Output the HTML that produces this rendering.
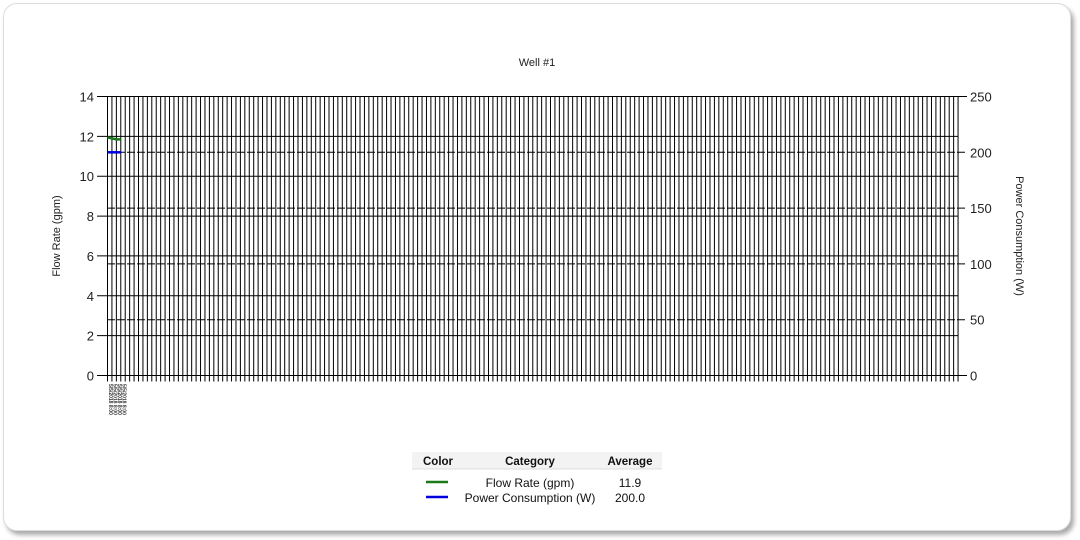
<!DOCTYPE html>
<html><head><meta charset="utf-8"><style>
body{margin:0;width:1080px;height:540px;background:#fff;overflow:hidden;font-family:"Liberation Sans",sans-serif}
#card{position:absolute;left:3px;top:3px;width:1066px;height:526px;border:1px solid #ddd;border-radius:14px;box-shadow:3px 4px 5px #aaa;background:#fff}
</style></head><body>
<div id="card"></div>
<svg id="chart" width="1080" height="540" style="position:absolute;left:0;top:0"></svg>
<script>
const categories = Array.from({length:193},(_,i)=>"C"+(i+1));
const flowValues = [11.95, 11.9, 11.85, 11.85];
const powerValues = [200, 200, 200, 200];
const leftTicks = [0,2,4,6,8,10,12,14];
const rightTicks = [0,50,100,150,200,250];
const legendNames = ["Flow Rate (gpm)","Power Consumption (W)"];
const legendAvgs = ["11.9","200.0"];

const svg=document.getElementById('chart');
const NS='http://www.w3.org/2000/svg';
const X0=107.5,STEP=4.43,Y0=375.5,Y1=96.5;
const xs=i=>X0+i*STEP;
const yL=v=>Y0-(v/14)*(Y0-Y1);
const yR=v=>Y0-(v/250)*(Y0-Y1);
function mk(t,a,txt){const e=document.createElementNS(NS,t);for(const k in a)e.setAttribute(k,a[k]);if(txt!=null)e.textContent=txt;svg.appendChild(e);return e;}
const XE=xs(categories.length-1);
categories.forEach((c,i)=>{
  const l=mk('line',{x1:xs(i),x2:xs(i),y1:Y1,y2:Y0+6,stroke:'#000','stroke-width':1});
  
  
});
leftTicks.forEach(v=>{
  const l=mk('line',{x1:97,x2:XE,y1:yL(v),y2:yL(v),stroke:'#000','stroke-width':1});
  
  
  const t=mk('text',{x:94,y:yL(v)+5,'text-anchor':'end','font-size':13,fill:'#222'},v);
  
  
});
rightTicks.forEach(v=>{
  const l=mk('line',{x1:107,x2:967,y1:yR(v),y2:yR(v),stroke:'#000','stroke-width':1,'stroke-dasharray':v%250==0?'':'8,2'});
  
  
  const t=mk('text',{x:970,y:yR(v)+5,'font-size':13,fill:'#222'},v);
  
  
});
for(let i=0;i<4;i++){
  const t=mk('text',{x:0,y:0,'font-size':5,fill:'#333','font-weight':'bold',transform:`translate(${109+i*4.43},384) rotate(90)`},'5/5/2018 8:00');
  
  
}
const fp=mk('polyline',{points:flowValues.map((v,i)=>xs(i)+','+yL(v)).join(' '),fill:'none',stroke:'#1a7a1a','stroke-width':2.5});


const pp=mk('polyline',{points:powerValues.map((v,i)=>xs(i)+','+yR(v)).join(' '),fill:'none',stroke:'#0000dd','stroke-width':2.5});


let e;
e=mk('text',{x:537,y:66,'text-anchor':'middle','font-size':11,fill:'#222'},'Well #1');
e=mk('text',{x:0,y:0,'text-anchor':'middle','font-size':11,fill:'#222',transform:'translate(60,236) rotate(-90)'},'Flow Rate (gpm)');
e=mk('text',{x:0,y:0,'text-anchor':'middle','font-size':11,fill:'#222',transform:'translate(1016,236) rotate(90)'},'Power Consumption (W)');
e=mk('rect',{x:412,y:452,width:250,height:17,fill:'#f3f3f3'});
mk('line',{x1:412,x2:662,y1:469,y2:469,stroke:'#ddd'});
[['Color',438],['Category',530],['Average',630]].forEach(([t,x])=>{const h=mk('text',{x:x,y:465,'text-anchor':'middle','font-size':11.5,'font-weight':'bold',fill:'#111'},t);});
const cols=['#1a7a1a','#0000dd'];
legendNames.forEach((n,i)=>{
  const y=487+i*15;
  const s=mk('line',{x1:426,x2:448,y1:y-5,y2:y-5,stroke:cols[i],'stroke-width':2.5});
  
  
  const t=mk('text',{x:530,y:y,'text-anchor':'middle','font-size':12,fill:'#111'},n);
  
  
  const a=mk('text',{x:630,y:y,'text-anchor':'middle','font-size':12,fill:'#111'},legendAvgs[i]);
  
  
});
</script>
</body></html>
